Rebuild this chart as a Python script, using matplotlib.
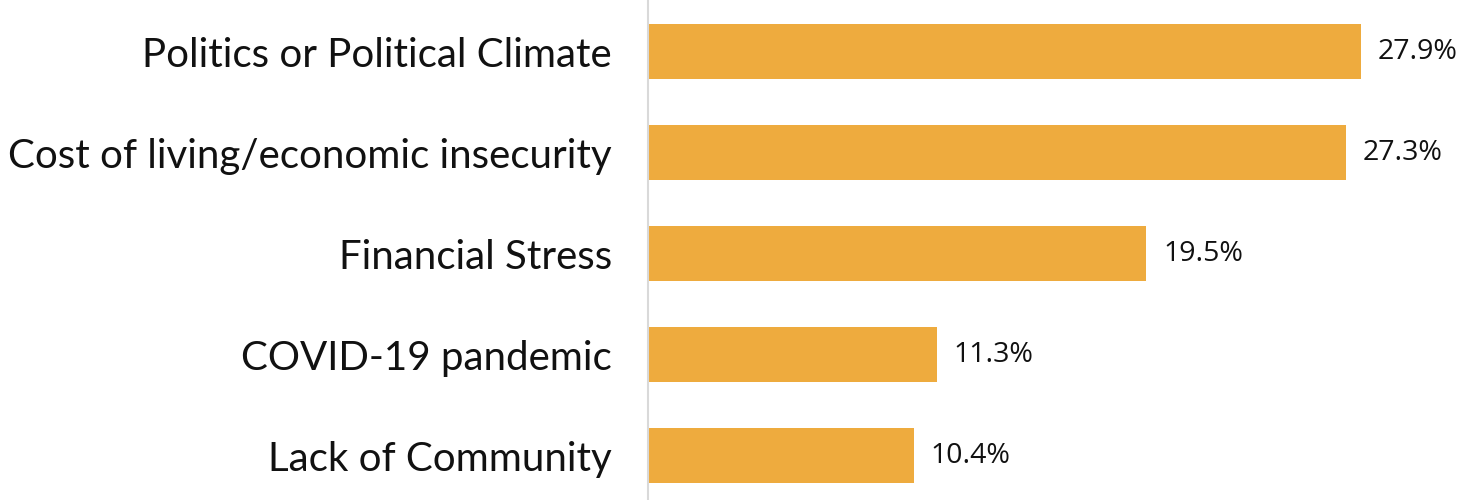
import matplotlib
matplotlib.use('Agg')
import matplotlib.pyplot as plt

categories = ['Politics or Political Climate', 'Cost of living/economic insecurity',
              'Financial Stress', 'COVID-19 pandemic', 'Lack of Community']
values = [27.9, 27.3, 19.5, 11.3, 10.4]
value_labels = ['27.9%', '27.3%', '19.5%', '11.3%', '10.4%']

bar_color = '#EEAB3E'

fig = plt.figure(figsize=(14.6, 5), dpi=100)
ax = fig.add_axes([648 / 1460, 0, 812 / 1460, 1])

y = list(range(len(categories)))
ax.barh(y, values, height=0.545, color=bar_color)

for yi, v, lab in zip(y, values, value_labels):
    ax.annotate(lab, (v, yi), xytext=(17, 0), textcoords='offset pixels',
                ha='left', va='center', fontsize=20.5, family='Open Sans', color='#111111')

ax.set_xlim(0, 31.77)
ax.set_ylim(4.44, -0.51)

ax.set_yticks(y)
ax.set_yticklabels(categories, fontsize=29, family='Lato', color='#111111')
ax.tick_params(axis='y', length=0, pad=26)
ax.set_xticks([])

for s in ['top', 'right', 'bottom']:
    ax.spines[s].set_visible(False)
ax.spines['left'].set_color('#D9D9D9')
ax.spines['left'].set_linewidth(1.5)

fig.savefig('out.png', dpi=100)
